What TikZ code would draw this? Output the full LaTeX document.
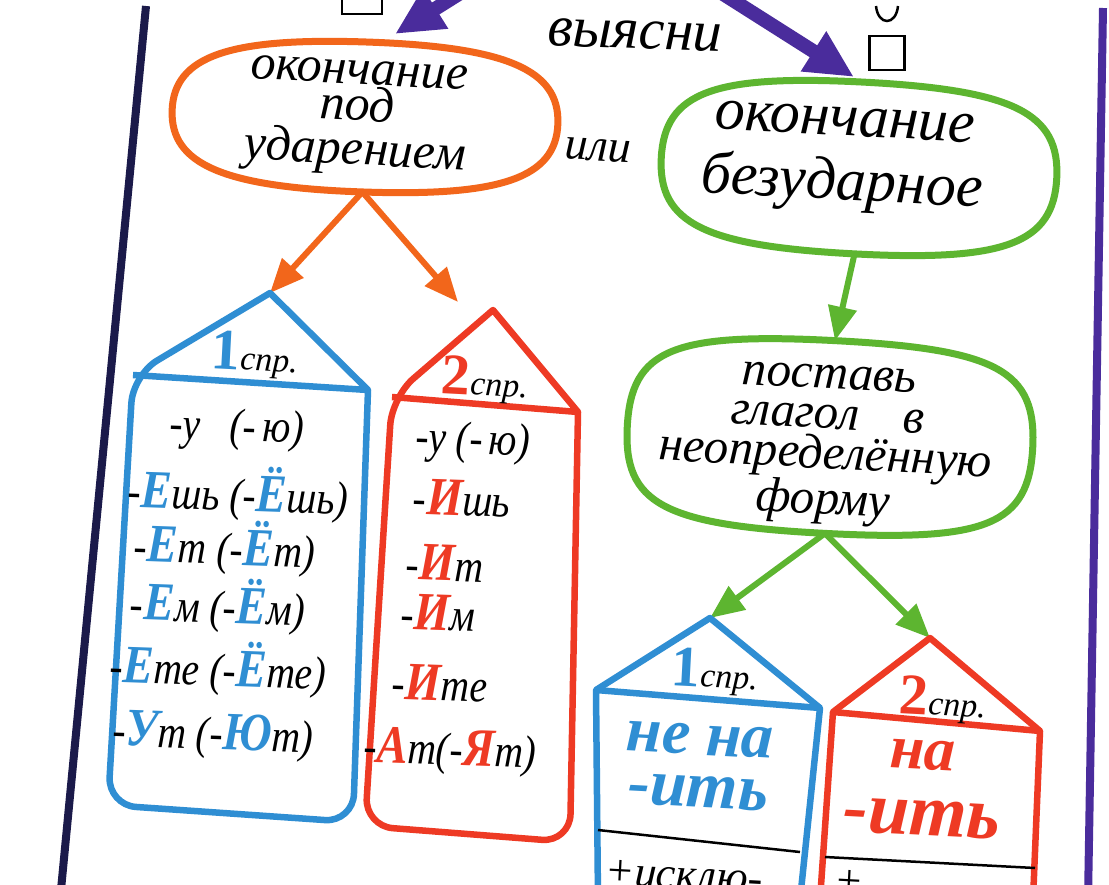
\documentclass[tikz,border=0pt]{standalone}
\usepackage{fontspec}
\setmainfont{Liberation Serif}
\usetikzlibrary{arrows.meta,calc}
\definecolor{cor}{HTML}{F2661B}
\definecolor{cgr}{HTML}{5DB530}
\definecolor{cbl}{HTML}{2F8ED3}
\definecolor{crd}{HTML}{EE3A24}
\definecolor{cpu}{HTML}{4A2C9C}
\definecolor{cnv}{HTML}{1B1A4A}
\newcommand{\fsz}[1]{\fontsize{#1}{#1}\selectfont}
\newcommand{\bl}[1]{{\color{cbl}\bfseries\itshape\fsz{54}#1}}
\newcommand{\rd}[1]{{\color{crd}\bfseries\itshape\fsz{54}#1}}
\newcommand{\soval}[3]{%
 \draw[#3, line width=7pt] (#1.east)
  .. controls ($(#1.east)!#2!(#1.north east)$) and ($(#1.north)!#2!(#1.north east)$) .. (#1.north)
  .. controls ($(#1.north)!#2!(#1.north west)$) and ($(#1.west)!#2!(#1.north west)$) .. (#1.west)
  .. controls ($(#1.west)!#2!(#1.south west)$) and ($(#1.south)!#2!(#1.south west)$) .. (#1.south)
  .. controls ($(#1.south)!#2!(#1.south east)$) and ($(#1.east)!#2!(#1.south east)$) .. (#1.east) -- cycle;}
\begin{document}
\begin{tikzpicture}[x=1pt,y=-1pt,
  parr/.style={cpu, line width=14pt, -{Triangle[length=48pt,width=44pt]}},
  oarr/.style={cor, line width=6pt, -{Triangle[length=34pt,width=28pt]}},
  garr/.style={cgr, line width=6pt, -{Triangle[length=34pt,width=28pt]}},
  house/.style={draw=#1, line width=6.5pt, line join=round},
  frame/.style={rectangle, draw=none, inner sep=0pt, outer sep=0pt},
  row/.style={font=\fsz{46}\itshape, inner sep=0pt, rotate=-2, xscale=0.86},
  head/.style={inner sep=0pt, rotate=-3},
  sep/.style={black, line width=2.5pt}]
\useasboundingbox (0,0) rectangle (1109,884);
\fill[white] (0,0) rectangle (1109,884);
% page borders
\draw[cnv, line width=8pt] (146,6) -- (60,900);
\draw[cpu, line width=8pt] (1103,8) -- (1088,900);
% top marks
\node[draw=black, line width=2.5pt, minimum width=40pt, minimum height=40pt, inner sep=0pt] (sql) at (362,-6) {};
\node[draw=black, line width=2.5pt, minimum width=35pt, minimum height=34pt, inner sep=0pt] (sqr) at (887,53) {};
\coordinate (brA) at (876,6); \coordinate (brB) at (898,6);
\draw[black, line width=2.5pt] (brA) .. controls (878,26) and (896,26) .. (brB);
% purple arrows
\coordinate (pA0) at (462,-8); \coordinate (pA1) at (395,34);
\coordinate (pB0) at (720,-8); \coordinate (pB1) at (854,77);
\draw[parr] (pA0) -- (pA1);
\draw[parr] (pB0) -- (pB1);
\node[font=\fsz{58}\itshape, inner sep=0pt, rotate=-2] (vy) at (635,35) {выясни};
% orange oval
\node[frame, minimum width=386pt, minimum height=150pt, rotate=-2] (eo) at (365,117) {};
\soval{eo}{0.72}{cor}
\node[font=\fontsize{50}{33}\selectfont\itshape, align=center, inner sep=0pt, rotate=-3] (eot) at (357,118) {окончание\\под\\[8pt]ударением};
\node[font=\fsz{46}\itshape, inner sep=0pt, rotate=-3] (ili) at (598,150) {или};
% green oval 1
\node[frame, minimum width=396pt, minimum height=172pt, rotate=-3] (g1) at (859,168) {};
\soval{g1}{0.76}{cgr}
\node[font=\fontsize{60}{64}\selectfont\itshape, align=center, inner sep=0pt, rotate=-3] (g1t) at (843,160) {окончание\\безударное};
% green oval 2
\node[frame, minimum width=406pt, minimum height=193pt, rotate=-3] (g2) at (830,437) {};
\soval{g2}{0.8}{cgr}
\node[font=\fontsize{49}{40}\selectfont\itshape, align=center, inner sep=0pt, rotate=-3] (g2t) at (826,445) {поставь\\глагол\hspace{44pt}в\\неопределённую\\форму};
% house corners
\coordinate (h1a) at (270,293); \coordinate (h1l) at (133,375); \coordinate (h1r) at (368,390);
\coordinate (h1bl) at (108,805); \coordinate (h1br) at (353,822);
\coordinate (h2a) at (493,310); \coordinate (h2l) at (392,397); \coordinate (h2r) at (578,412);
\coordinate (h2bl) at (365,826); \coordinate (h2br) at (570,842);
\coordinate (h3a) at (710,618); \coordinate (h3l) at (596,690); \coordinate (h3r) at (820,708);
\coordinate (h3bl) at (598,900); \coordinate (h3br) at (800,900);
\coordinate (h4a) at (930,638); \coordinate (h4l) at (833,712); \coordinate (h4r) at (1040,731);
\coordinate (h4bl) at (820,900); \coordinate (h4br) at (1033,900);
\coordinate (t2) at (458,302);
% arrows
\draw[oarr] (eo.south) -- (h1a);
\draw[oarr] (eo.south) -- (t2);
\draw[garr] (g1.south) -- (g2.north);
\draw[garr] (g2.south) -- (h3a);
\draw[garr] (g2.south) -- (h4a);
% houses
\draw[house=cbl] (h1a) -- (h1r) [rounded corners=28pt] -- (h1br) -- (h1bl) -- (h1l) [sharp corners] -- cycle;
\draw[house=cbl] (h1l) -- (h1r);
\draw[house=crd] (h2a) -- (h2r) [rounded corners=28pt] -- (h2br) -- (h2bl) -- (h2l) [sharp corners] -- cycle;
\draw[house=crd] (h2l) -- (h2r);
\draw[house=cbl] (h3bl) -- (h3l) -- (h3a) -- (h3r) -- (h3br);
\draw[house=cbl] (h3l) -- (h3r);
\draw[house=crd] (h4bl) -- (h4l) -- (h4a) -- (h4r) -- (h4br);
\draw[house=crd] (h4l) -- (h4r);
\coordinate (s3a) at (598,830); \coordinate (s3b) at (800,852);
\coordinate (s4a) at (825,857); \coordinate (s4b) at (1035,868);
\draw[sep] (s3a) -- (s3b);
\draw[sep] (s4a) -- (s4b);
% house headers
\node[head] (b1h) at (255,355) {{\color{cbl}\bfseries\fsz{58}1}{\fsz{34}\itshape спр.}};
\node[head] (r2h) at (485,380) {{\color{crd}\bfseries\fsz{58}2}{\fsz{34}\itshape спр.}};
\node[head] (b3h) at (715,672) {{\color{cbl}\bfseries\fsz{58}1}{\fsz{34}\itshape спр.}};
\node[head] (r4h) at (943,700) {{\color{crd}\bfseries\fsz{58}2}{\fsz{34}\itshape спр.}};
% blue house 1 rows
\node[row] (b1r1) at (237,430) {-у\ \ \ (-\,ю)};
\node[row] (b1r2) at (238,493) {-\bl{Е}шь (-\bl{Ё}шь)};
\node[row] (b1r3) at (225,547) {-\bl{Е}т (-\bl{Ё}т)};
\node[row] (b1r4) at (218,605) {-\bl{Е}м (-\bl{Ё}м)};
\node[row] (b1r5) at (218,668) {-\bl{Е}те (-\bl{Ё}те)};
\node[row] (b1r6) at (213,736) {-\bl{У}т (-\bl{Ю}т)};
% red house 2 rows
\node[row] (r2r1) at (473,443) {-у (-\,ю)};
\node[row] (r2r2) at (462,498) {-\rd{И}шь};
\node[row] (r2r3) at (445,563) {-\rd{И}т};
\node[row] (r2r4) at (438,613) {-\rd{И}м};
\node[row] (r2r5) at (440,683) {-\rd{И}те};
\node[row] (r2r6) at (450,752) {-\rd{А}т(-\rd{Я}т)};
% house 3 and 4
\node[head, font=\fsz{64}\bfseries\itshape, text=cbl] (b3a) at (700,740) {не на};
\node[head, font=\fsz{66}\bfseries\itshape, text=cbl] (b3b) at (698,792) {-ить};
\node[inner sep=0pt, anchor=base, font=\fsz{44}\itshape, rotate=-3] (b3c) at (683,889) {+исклю-};
\node[head, font=\fsz{62}\bfseries\itshape, text=crd] (r4a) at (923,755) {на};
\node[head, font=\fsz{74}\bfseries\itshape, text=crd] (r4b) at (922,818) {-ить};
\node[inner sep=0pt, anchor=base, font=\fsz{44}\itshape, rotate=-3] (r4c) at (848,895) {+};
\end{tikzpicture}
\end{document}
